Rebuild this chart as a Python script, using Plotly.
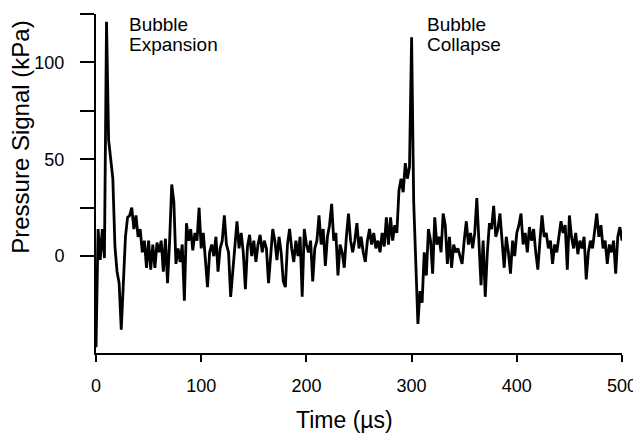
import plotly.graph_objects as go

sample_step_us = 2

# Pressure signal (kPa), one value every 2 us from 0 to 500 us
pressure_kpa = [
    -47, 14, -2, 14, -1, 121, 60, 48, 40, 5,
    -8, -14, -38, -14, 10, 20, 21, 25, 14, 21,
    10, 14, 2, 8, -6, 8, -7, 6, -6, 7,
    2, 8, -8, 9, -14, 8, 37, 28, -4, 4,
    -3, 6, -23, 17, 8, 14, 3, 12, 8, 25,
    4, 12, -3, -16, 2, 6, 0, 10, -8, 4,
    8, 21, 6, 2, -21, -8, 8, 18, 4, 12,
    2, -17, 5, 11, 0, 8, -3, 6, 11, 2,
    8, 4, -14, 2, 14, 8, -2, 10, 2, -13,
    -16, 6, 14, 4, -3, 8, 0, 10, -21, 14,
    6, 2, 8, -13, 4, 8, 21, 6, 14, -5,
    10, 16, 27, 8, 12, -10, 6, 2, -6, 10,
    22, 8, 2, 8, 17, 4, 10, 2, -3, 8,
    14, 6, 12, 4, 8, 2, 12, 5, 20, 6,
    20, 8, 16, 12, 34, 40, 33, 48, 40, 46,
    113, 28, -8, -35, -18, -24, 2, -10, 14, 8,
    -9, 20, 6, 10, 2, 22, 16, -4, 10, -6,
    6, 2, 4, 0, -4, 8, 18, 6, 12, 4,
    12, 30, 4, -15, 8, -21, 2, 17, 14, 26,
    10, 14, 22, 8, -6, 10, 2, -9, 8, 0,
    12, 16, 22, 6, 12, 2, 15, 8, 14, 2,
    -7, 8, 21, 10, 12, 4, 8, -4, 6, 2,
    10, 18, 12, 16, -7, 21, 10, 4, 12, 1,
    8, 4, 10, -12, 2, 8, 4, 12, 22, 10,
    16, 4, 8, -4, 6, 2, 8, -9, 10, 15,
    8,
]
time_us = [i * sample_step_us for i in range(len(pressure_kpa))]

x_ticks = [0, 100, 200, 300, 400, 500]
y_ticks = [0, 25, 50, 75, 100, 125]
y_tick_text = ["0", "", "50", "", "100", ""]

# Event labels: time of label's left edge, first line, second line
event_times = [29.5, 312.5]
event_line1 = ["Bubble", "Bubble"]
event_line2 = ["Expansion", "Collapse"]

x_title = "Time (µs)"
y_title = "Pressure Signal (kPa)"

font_family = "Liberation Sans, Arial, Helvetica, sans-serif"

fig = go.Figure()
fig.add_trace(go.Scatter(
    x=time_us, y=pressure_kpa, mode="lines",
    line=dict(color="black", width=2.8),
    hoverinfo="skip", showlegend=False,
))

for t, l1, l2 in zip(event_times, event_line1, event_line2):
    fig.add_annotation(x=t, y=119.5, xref="x", yref="y", text=l1, showarrow=False,
                       xanchor="left", yanchor="middle",
                       font=dict(size=19, color="black", family=font_family))
    fig.add_annotation(x=t, y=109, xref="x", yref="y", text=l2, showarrow=False,
                       xanchor="left", yanchor="middle",
                       font=dict(size=19, color="black", family=font_family))

fig.add_annotation(x=-0.145, y=0.637, xref="paper", yref="paper",
                   text=y_title, textangle=-90, showarrow=False,
                   xanchor="center", yanchor="middle",
                   font=dict(size=24, color="black", family=font_family))

fig.add_annotation(x=0.473, y=-0.198, xref="paper", yref="paper",
                   text=x_title, showarrow=False,
                   xanchor="center", yanchor="middle",
                   font=dict(size=23, color="black", family=font_family))

fig.update_layout(
    width=633, height=432,
    margin=dict(l=88, r=19, t=6, b=87),
    paper_bgcolor="white", plot_bgcolor="white",
    font=dict(family=font_family, color="black", size=18),
    xaxis=dict(
        range=[0, 500], tickvals=x_ticks, ticks="outside", ticklen=7, tickwidth=2,
        tickcolor="black", showline=True, linecolor="black", linewidth=2,
        showgrid=False, zeroline=False, ticklabelstandoff=8, automargin=False,
    ),
    yaxis=dict(
        range=[-50, 125], tickvals=y_ticks, ticktext=y_tick_text, ticks="outside",
        ticklen=14, tickwidth=2, tickcolor="black", showline=True, linecolor="black",
        linewidth=2, showgrid=False, zeroline=False, ticklabelstandoff=12,
        automargin=False,
    ),
)

fig.write_html("out.html")
